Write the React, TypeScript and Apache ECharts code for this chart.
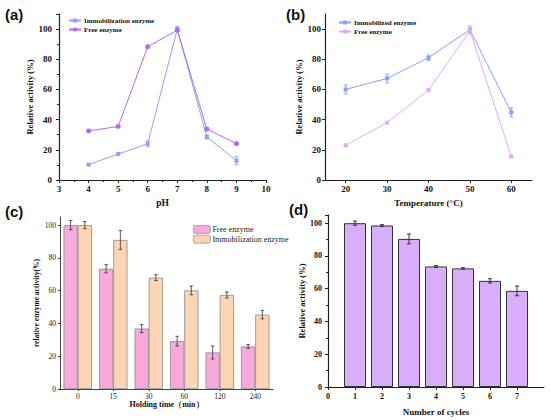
import React, { useEffect, useRef } from "react";
import * as echarts from "echarts";

// ---- Panel (a): pH ----
const phValues = [4, 5, 6, 7, 8, 9];
const phImmob = [10.2, 17.2, 24, 100, 28.5, 12.8];
const phImmobErr = [0.6, 0.6, 2, 1.7, 1.3, 2.6];
const phFree = [32.5, 35.5, 88.3, 99.3, 33.8, 24.1];
const phFreeErr = [0.6, 0.5, 0.6, 0.8, 0.6, 0.6];

// ---- Panel (b): Temperature ----
const tempValues = [20, 30, 40, 50, 60];
const tempImmob = [60, 67.3, 81, 99.6, 44.8];
const tempImmobErr = [2.9, 2.9, 1.9, 2.4, 3];
const tempFree = [23, 38, 59.6, 98.9, 15.5];
const tempFreeErr = [0.5, 0.5, 0.6, 1.2, 0.5];

// ---- Panel (c): Holding time ----
const holdCats = ["0", "15", "30", "60", "120", "240"];
const holdFree = [100, 73.4, 36.9, 29.2, 22.3, 26];
const holdFreeErr = [2.8, 2.5, 2.5, 3, 4, 1.2];
const holdImmob = [100, 91, 68, 60.2, 57.4, 45.4];
const holdImmobErr = [2.2, 5.8, 1.8, 2.7, 1.8, 2.6];

// ---- Panel (d): cycles ----
const cycles = [1, 2, 3, 4, 5, 6, 7];
const cycleVals = [100, 98.6, 90.4, 73.6, 72.4, 64.8, 58.7];
const cycleErr = [1.3, 0.5, 3, 0.6, 0.4, 1.3, 3];

const SERIF = "'Liberation Serif', 'Times New Roman', serif";
const SANS = "'Liberation Sans', Arial, sans-serif";

const C_IMMOB_A = "#8fa2fa";
const C_FREE_A = "#b566f2";
const C_IMMOB_B = "#8b9ef8";
const C_FREE_B = "#e2a9f6";
const C_PINK = "#f9a9dc";
const C_PEACH = "#fcd5b4";
const C_PURPLE = "#d8aefb";

function errRender(offsetFrac: number, cap: number, color: string, lw: number) {
  return (params: any, api: any) => {
    const x = api.value(0);
    const y = api.value(1);
    const e = api.value(2);
    if (!e) return null;
    const top = api.coord([x, y + e]);
    const bot = api.coord([x, y - e]);
    let dx = 0;
    if (offsetFrac) dx = api.size([1, 0])[0] * offsetFrac;
    const cx = top[0] + dx;
    const style = { stroke: color, lineWidth: lw };
    return {
      type: "group",
      children: [
        { type: "line", shape: { x1: cx, y1: top[1], x2: cx, y2: bot[1] }, style },
        { type: "line", shape: { x1: cx - cap, y1: top[1], x2: cx + cap, y2: top[1] }, style },
        { type: "line", shape: { x1: cx - cap, y1: bot[1], x2: cx + cap, y2: bot[1] }, style },
      ],
    };
  };
}

function pairs(xs: any[], ys: number[]) {
  return xs.map((x, i) => [x, ys[i]]);
}
function triples(xs: any[], ys: number[], es: number[]) {
  return xs.map((x, i) => [x, ys[i], es[i]]);
}

const boldLabel = (size: number, margin: number) => ({
  fontFamily: SERIF,
  fontWeight: "bold",
  fontSize: size,
  color: "#111",
  margin,
});

const axisLineBlack = { show: true, lineStyle: { color: "#222", width: 1.2 } };

export default function App() {
  const ref = useRef<HTMLDivElement>(null);
  useEffect(() => {
    if (!ref.current) return;
    const chart = echarts.init(ref.current, null, { renderer: "svg" });
    const strip = (n: string) => n.replace(/^[a-d]\|/, "");
    const option: any = {
      animation: false,
      backgroundColor: "#ffffff",
      grid: [
        { left: 59, top: 14, width: 207, height: 166 },
        { left: 325, top: 14, width: 207, height: 166 },
        { left: 60, top: 217, width: 213, height: 172 },
        { left: 328, top: 215, width: 216, height: 172 },
      ],
      legend: [
        {
          data: ["a|Immobilization enzyme", "a|Free enzyme"],
          formatter: strip,
          orient: "vertical",
          left: 63,
          top: 12,
          itemWidth: 12,
          itemHeight: 5,
          itemGap: 2,
          textStyle: { fontFamily: SERIF, fontWeight: "bold", fontSize: 7, color: "#111", padding: [0, 0, 0, -2] },
          selectedMode: false,
        },
        {
          data: ["b|Immobilized enzyme", "b|Free enzyme"],
          formatter: strip,
          orient: "vertical",
          left: 333,
          top: 14,
          itemWidth: 12,
          itemHeight: 5,
          itemGap: 2,
          textStyle: { fontFamily: SERIF, fontWeight: "bold", fontSize: 7, color: "#111", padding: [0, 0, 0, -2] },
          selectedMode: false,
        },
        {
          data: ["c|Free enzyme", "c|Immobilization enzyme"],
          formatter: strip,
          orient: "vertical",
          left: 188,
          top: 220,
          itemWidth: 17,
          itemHeight: 8,
          itemGap: 1,
          itemStyle: { borderColor: "#999", borderWidth: 0.8 },
          textStyle: { fontFamily: SERIF, fontSize: 8, color: "#222", padding: [0, 0, 0, -3] },
          selectedMode: false,
        },
      ],
      xAxis: [
        {
          gridIndex: 0,
          type: "value",
          min: 3,
          max: 10,
          interval: 1,
          name: "pH",
          nameLocation: "middle",
          nameGap: 18,
          nameTextStyle: { fontFamily: SERIF, fontWeight: "bold", fontSize: 9.5, color: "#111" },
          axisLine: axisLineBlack,
          axisTick: { show: true, length: 3, lineStyle: { color: "#222" } },
          minorTick: { show: true, splitNumber: 2, length: 2, lineStyle: { color: "#222" } },
          axisLabel: boldLabel(9, 4),
          splitLine: { show: false },
        },
        {
          gridIndex: 1,
          type: "value",
          min: 15,
          max: 65,
          name: "Temperature (°C)",
          nameLocation: "middle",
          nameGap: 18,
          nameTextStyle: { fontFamily: SERIF, fontWeight: "bold", fontSize: 9, color: "#111" },
          axisLine: axisLineBlack,
          axisTick: { show: true, length: 3, lineStyle: { color: "#222" }, customValues: tempValues },
          axisLabel: { ...boldLabel(9, 4), customValues: tempValues },
          splitLine: { show: false },
        },
        {
          gridIndex: 2,
          type: "category",
          data: holdCats,
          name: "Holding time（min）",
          nameLocation: "middle",
          nameGap: 11,
          nameTextStyle: { fontFamily: SERIF, fontWeight: "bold", fontSize: 8, color: "#111" },
          axisLine: { show: true, lineStyle: { color: "#444", width: 1 } },
          axisTick: { show: true, alignWithLabel: true, length: 2, lineStyle: { color: "#444" } },
          axisLabel: { fontFamily: SERIF, fontSize: 7.5, color: "#222", margin: 3 },
          splitLine: { show: false },
        },
        {
          gridIndex: 3,
          type: "value",
          min: 0,
          max: 8,
          interval: 1,
          name: "Number of cycles",
          nameLocation: "middle",
          nameGap: 20,
          nameTextStyle: { fontFamily: SERIF, fontWeight: "bold", fontSize: 9, color: "#111" },
          axisLine: axisLineBlack,
          axisTick: { show: true, length: 3, lineStyle: { color: "#222" } },
          axisLabel: { ...boldLabel(8, 5), showMaxLabel: false },
          splitLine: { show: false },
        },
      ],
      yAxis: [
        {
          gridIndex: 0,
          type: "value",
          min: 0,
          max: 110,
          interval: 20,
          name: "Relative activity (%)",
          nameLocation: "middle",
          nameGap: 16,
          nameTextStyle: { fontFamily: SERIF, fontWeight: "bold", fontSize: 8.5, color: "#111" },
          axisLine: axisLineBlack,
          axisTick: { show: true, length: 3, lineStyle: { color: "#222" } },
          minorTick: { show: true, splitNumber: 2, length: 2, lineStyle: { color: "#222" } },
          axisLabel: { ...boldLabel(9, 7), showMaxLabel: false },
          splitLine: { show: false },
        },
        {
          gridIndex: 1,
          type: "value",
          min: 0,
          max: 110,
          interval: 20,
          name: "Relative activity (%)",
          nameLocation: "middle",
          nameGap: 15,
          nameTextStyle: { fontFamily: SERIF, fontWeight: "bold", fontSize: 8.5, color: "#111" },
          axisLine: axisLineBlack,
          axisTick: { show: true, length: 3, lineStyle: { color: "#222" } },
          axisLabel: { ...boldLabel(9, 4), showMaxLabel: false },
          splitLine: { show: false },
        },
        {
          gridIndex: 2,
          type: "value",
          min: 0,
          max: 105,
          interval: 20,
          name: "relative enzyme activity(%)",
          nameLocation: "middle",
          nameGap: 12,
          nameTextStyle: { fontFamily: SERIF, fontWeight: "bold", fontSize: 7.5, color: "#111" },
          axisLine: { show: true, lineStyle: { color: "#444", width: 1 } },
          axisTick: { show: true, length: 2, lineStyle: { color: "#444" } },
          axisLabel: { fontFamily: SERIF, fontSize: 7.5, color: "#222", margin: 4, showMaxLabel: false },
          splitLine: { show: false },
        },
        {
          gridIndex: 3,
          type: "value",
          min: 0,
          max: 105,
          interval: 20,
          name: "Relative activity (%)",
          nameLocation: "middle",
          nameGap: 17,
          nameTextStyle: { fontFamily: SERIF, fontWeight: "bold", fontSize: 8.5, color: "#111" },
          axisLine: axisLineBlack,
          axisTick: { show: true, length: 3, lineStyle: { color: "#222" } },
          minorTick: { show: true, splitNumber: 2, length: 2, lineStyle: { color: "#222" } },
          axisLabel: { ...boldLabel(8, 6), showMaxLabel: false },
          splitLine: { show: false },
        },
      ],
      series: [
        // (a)
        {
          name: "a|Immobilization enzyme",
          type: "line",
          xAxisIndex: 0,
          yAxisIndex: 0,
          data: pairs(phValues, phImmob),
          symbol: "rect",
          symbolSize: 4,
          lineStyle: { color: C_IMMOB_A, width: 1 },
          itemStyle: { color: C_IMMOB_A },
        },
        {
          name: "a|Free enzyme",
          type: "line",
          xAxisIndex: 0,
          yAxisIndex: 0,
          data: pairs(phValues, phFree),
          symbol: "circle",
          symbolSize: 5,
          lineStyle: { color: C_FREE_A, width: 1 },
          itemStyle: { color: C_FREE_A },
        },
        {
          type: "custom",
          xAxisIndex: 0,
          yAxisIndex: 0,
          data: triples(phValues, phImmob, phImmobErr),
          renderItem: errRender(0, 2, C_IMMOB_A, 0.9),
          z: 3,
        },
        {
          type: "custom",
          xAxisIndex: 0,
          yAxisIndex: 0,
          data: triples(phValues, phFree, phFreeErr),
          renderItem: errRender(0, 2, C_FREE_A, 0.9),
          z: 3,
        },
        // (b)
        {
          name: "b|Immobilized enzyme",
          type: "line",
          xAxisIndex: 1,
          yAxisIndex: 1,
          data: pairs(tempValues, tempImmob),
          symbol: "rect",
          symbolSize: 4,
          lineStyle: { color: C_IMMOB_B, width: 1 },
          itemStyle: { color: C_IMMOB_B },
        },
        {
          name: "b|Free enzyme",
          type: "line",
          xAxisIndex: 1,
          yAxisIndex: 1,
          data: pairs(tempValues, tempFree),
          symbol: "rect",
          symbolSize: 4,
          lineStyle: { color: C_FREE_B, width: 1 },
          itemStyle: { color: C_FREE_B },
        },
        {
          type: "custom",
          xAxisIndex: 1,
          yAxisIndex: 1,
          data: triples(tempValues, tempImmob, tempImmobErr),
          renderItem: errRender(0, 2, C_IMMOB_B, 0.9),
          z: 3,
        },
        {
          type: "custom",
          xAxisIndex: 1,
          yAxisIndex: 1,
          data: triples(tempValues, tempFree, tempFreeErr),
          renderItem: errRender(0, 2, C_FREE_B, 0.9),
          z: 3,
        },
        // (c)
        {
          name: "c|Free enzyme",
          type: "bar",
          xAxisIndex: 2,
          yAxisIndex: 2,
          data: holdFree,
          barWidth: "40%",
          barGap: "0%",
          itemStyle: { color: C_PINK, borderColor: "#8a8a8a", borderWidth: 0.8 },
        },
        {
          name: "c|Immobilization enzyme",
          type: "bar",
          xAxisIndex: 2,
          yAxisIndex: 2,
          data: holdImmob,
          barWidth: "40%",
          barGap: "0%",
          itemStyle: { color: C_PEACH, borderColor: "#8a8a8a", borderWidth: 0.8 },
        },
        {
          type: "custom",
          xAxisIndex: 2,
          yAxisIndex: 2,
          data: triples(holdCats.map((_, i) => i), holdFree, holdFreeErr),
          renderItem: errRender(-0.2, 1.8, "#333", 0.8),
          z: 5,
        },
        {
          type: "custom",
          xAxisIndex: 2,
          yAxisIndex: 2,
          data: triples(holdCats.map((_, i) => i), holdImmob, holdImmobErr),
          renderItem: errRender(0.2, 1.8, "#333", 0.8),
          z: 5,
        },
        // (d)
        {
          name: "d|Cycles",
          type: "bar",
          xAxisIndex: 3,
          yAxisIndex: 3,
          data: pairs(cycles, cycleVals),
          barWidth: 22,
          itemStyle: { color: C_PURPLE, borderColor: "#333", borderWidth: 1 },
        },
        {
          type: "custom",
          xAxisIndex: 3,
          yAxisIndex: 3,
          data: triples(cycles, cycleVals, cycleErr),
          renderItem: errRender(0, 2, "#222", 0.9),
          z: 5,
        },
      ],
      graphic: [
        { type: "text", left: 5, top: 7, style: { text: "(a)", font: `bold 15px ${SANS}`, fill: "#111" } },
        { type: "text", left: 286, top: 7, style: { text: "(b)", font: `bold 15px ${SANS}`, fill: "#111" } },
        { type: "text", left: 5, top: 204, style: { text: "(c)", font: `bold 15px ${SANS}`, fill: "#111" } },
        { type: "text", left: 289, top: 202, style: { text: "(d)", font: `bold 15px ${SANS}`, fill: "#111" } },
      ],
    };
    chart.setOption(option);
    return () => chart.dispose();
  }, []);
  return (
    <div
      ref={ref}
      style={{ position: "fixed", left: 0, top: 0, width: 550, height: 420, background: "#fff" }}
    />
  );
}
